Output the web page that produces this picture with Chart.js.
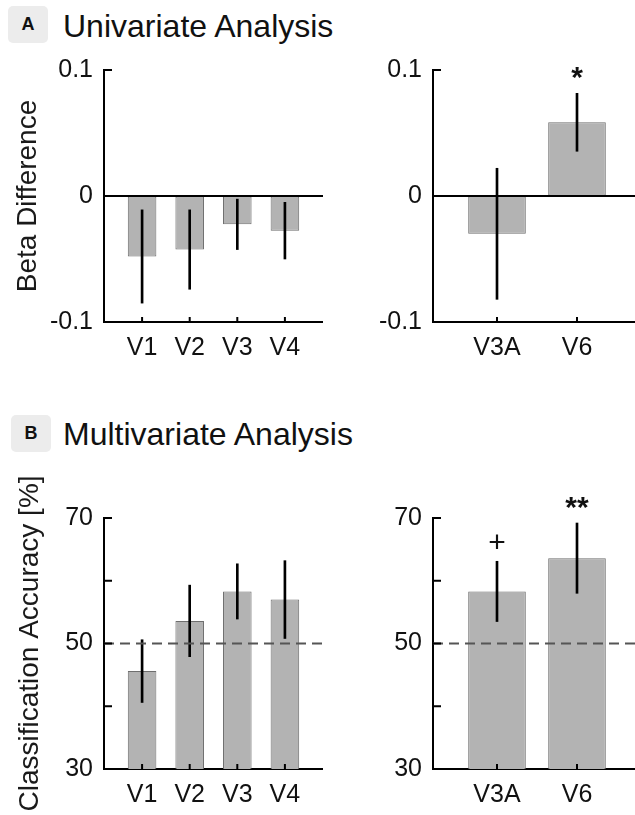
<!DOCTYPE html>
<html>
<head>
<meta charset="utf-8">
<script src="https://cdn.jsdelivr.net/npm/chart.js@4.4.0/dist/chart.umd.min.js"></script>
<style>
  html, body { margin: 0; padding: 0; background: #fff; }
  body { width: 635px; height: 815px; position: relative; overflow: hidden; font-family: "Liberation Sans", Arial, sans-serif; }
  .tag { position: absolute; width: 40px; height: 37px; background: #ececec; border-radius: 5px; font-weight: bold; font-size: 18px; line-height: 37px; text-align: center; color: #111; }
  .head { position: absolute; left: 63px; font-size: 32px; line-height: 32px; color: #111; white-space: nowrap; }
  canvas { position: absolute; }
</style>
</head>
<body>
<div class="tag" style="left:8px;top:6px">A</div>
<div class="head" style="top:10px">Univariate Analysis</div>
<div class="tag" style="left:11px;top:415px">B</div>
<div class="head" style="top:418px">Multivariate Analysis</div>

<canvas id="betaEarlyChart" width="323" height="330" style="left:0;top:40px"></canvas>
<canvas id="betaDorsalChart" width="318" height="330" style="left:323px;top:40px"></canvas>
<canvas id="accEarlyChart" width="323" height="345" style="left:0;top:470px"></canvas>
<canvas id="accDorsalChart" width="318" height="345" style="left:323px;top:470px"></canvas>

<script>
// areas
const earlyAreas = ['V1', 'V2', 'V3', 'V4'];
const dorsalAreas = ['V3A', 'V6'];

// A: univariate beta difference (mean, sem)
const betaEarly = [-0.048, -0.0425, -0.0225, -0.0275];
const betaEarlySem = [0.037, 0.0315, 0.020, 0.0225];
const betaEarlySig = ['', '', '', ''];
const betaDorsal = [-0.030, 0.0585];
const betaDorsalSem = [0.052, 0.023];
const betaDorsalSig = ['', '*'];

// B: multivariate classification accuracy (mean, sem)
const accEarly = [45.6, 53.6, 58.3, 57.0];
const accEarlySem = [5.0, 5.7, 4.4, 6.2];
const accEarlySig = ['', '', '', ''];
const accDorsal = [58.3, 63.6];
const accDorsalSem = [4.8, 5.6];
const accDorsalSig = ['+', '**'];

// y ticks
const betaTicks = [-0.1, 0, 0.1];
const betaTickLabels = ['-0.1', '0', '0.1'];
const accTicks = [30, 40, 50, 60, 70];
const accTickLabels = ['30', '', '50', '', '70'];

const fontFam = '"Liberation Sans", Arial, sans-serif';

// reference line, inward ticks and significance marks
const panelExtras = {
  id: 'panelExtras',
  afterDatasetsDraw(chart, args, opts) {
    const ctx = chart.ctx;
    const area = chart.chartArea;
    const xs = chart.scales.x;
    const ys = chart.scales.y;
    ctx.save();

    const ry = ys.getPixelForValue(opts.refValue);
    ctx.strokeStyle = opts.refColor;
    ctx.lineWidth = 2;
    ctx.setLineDash(opts.refDash);
    ctx.beginPath();
    ctx.moveTo(area.left, ry);
    ctx.lineTo(area.right, ry);
    ctx.stroke();
    ctx.setLineDash([]);

    ctx.strokeStyle = '#000';
    ctx.beginPath();
    ys.ticks.forEach(t => {
      const py = ys.getPixelForValue(t.value);
      ctx.moveTo(area.left, py);
      ctx.lineTo(area.left + 8, py);
    });
    xs.ticks.forEach(t => {
      const px = xs.getPixelForValue(t.value);
      ctx.moveTo(px, area.bottom);
      ctx.lineTo(px, area.bottom - 5);
    });
    ctx.stroke();

    const errs = chart.data.datasets[1].data;
    ctx.fillStyle = '#111';
    ctx.textAlign = 'center';
    ctx.textBaseline = 'alphabetic';
    opts.marks.forEach((m, i) => {
      if (!m) return;
      ctx.font = (m.indexOf('*') >= 0 ? 'bold ' : '') + '30px ' + fontFam;
      const px = xs.getPixelForValue(errs[i].x);
      const top = ys.getPixelForValue(errs[i].y[1]);
      const tm = ctx.measureText(m);
      const mid = (tm.actualBoundingBoxAscent - tm.actualBoundingBoxDescent) / 2;
      ctx.fillText(m, px, top - 20 + mid);
    });
    ctx.restore();
  }
};

function makePanel(id, cats, means, sems, marks, cfg) {
  new Chart(document.getElementById(id), {
    type: 'bar',
    data: {
      datasets: [
        {
          data: means.map((v, i) => ({ x: i + 1, y: v })),
          backgroundColor: '#b3b3b3',
          borderColor: '#6e6e6e',
          borderWidth: 1,
          borderSkipped: false,
          barPercentage: cfg.barPct,
          categoryPercentage: 1,
          grouped: false,
          order: 1
        },
        {
          data: means.map((v, i) => ({ x: i + 1, y: [v - sems[i], v + sems[i]] })),
          backgroundColor: '#000',
          barThickness: 2,
          grouped: false,
          order: 0
        }
      ]
    },
    options: {
      responsive: false,
      animation: false,
      layout: { padding: { top: cfg.padTop, left: 0, right: 0, bottom: 0 } },
      plugins: {
        legend: { display: false },
        tooltip: { enabled: false },
        panelExtras: { refValue: cfg.refValue, refDash: cfg.refDash, refColor: cfg.refColor, marks: marks }
      },
      scales: {
        x: {
          type: 'linear',
          min: 0.2,
          max: cats.length + 0.8,
          offset: false,
          grid: { display: true, drawOnChartArea: false, drawTicks: false, offset: false },
          border: { color: '#000', width: 2 },
          afterBuildTicks: s => { s.ticks = cats.map((c, i) => ({ value: i + 1 })); },
          afterFit: s => { s.height = cfg.xHeight; },
          ticks: {
            callback: v => cats[Math.round(v) - 1],
            font: { family: fontFam, size: 25 },
            color: '#111',
            padding: 11,
            autoSkip: false,
            maxRotation: 0
          }
        },
        y: {
          min: cfg.yTicks[0],
          max: cfg.yTicks[cfg.yTicks.length - 1],
          grid: { display: true, drawOnChartArea: false, drawTicks: false },
          border: { color: '#000', width: 2 },
          afterBuildTicks: s => { s.ticks = cfg.yTicks.map(v => ({ value: v })); },
          afterFit: s => { s.width = cfg.yWidth; },
          ticks: {
            callback: (v, i) => cfg.yLabels[i],
            font: { family: fontFam, size: 25 },
            color: '#111',
            padding: 11
          },
          title: {
            display: !!cfg.yTitle,
            text: cfg.yTitle,
            font: { family: fontFam, size: 28 },
            color: '#1a1a1a',
            padding: { top: cfg.titlePad, bottom: 0 }
          }
        }
      }
    },
    plugins: [panelExtras]
  });
}

makePanel('betaEarlyChart', earlyAreas, betaEarly, betaEarlySem, betaEarlySig, {
  barPct: 0.6, padTop: 30, xHeight: 48, yWidth: 104, yTicks: betaTicks, yLabels: betaTickLabels,
  yTitle: 'Beta Difference', titlePad: 11, refValue: 0, refDash: [], refColor: '#000'
});
makePanel('betaDorsalChart', dorsalAreas, betaDorsal, betaDorsalSem, betaDorsalSig, {
  barPct: 0.72, padTop: 30, xHeight: 48, yWidth: 110, yTicks: betaTicks, yLabels: betaTickLabels,
  yTitle: '', titlePad: 0, refValue: 0, refDash: [], refColor: '#000'
});
makePanel('accEarlyChart', earlyAreas, accEarly, accEarlySem, accEarlySig, {
  barPct: 0.6, padTop: 48, xHeight: 46, yWidth: 104, yTicks: accTicks, yLabels: accTickLabels,
  yTitle: 'Classification Accuracy [%]', titlePad: 13, refValue: 50, refDash: [10, 6], refColor: '#555'
});
makePanel('accDorsalChart', dorsalAreas, accDorsal, accDorsalSem, accDorsalSig, {
  barPct: 0.72, padTop: 48, xHeight: 46, yWidth: 110, yTicks: accTicks, yLabels: accTickLabels,
  yTitle: '', titlePad: 0, refValue: 50, refDash: [10, 6], refColor: '#555'
});
</script>
</body>
</html>
